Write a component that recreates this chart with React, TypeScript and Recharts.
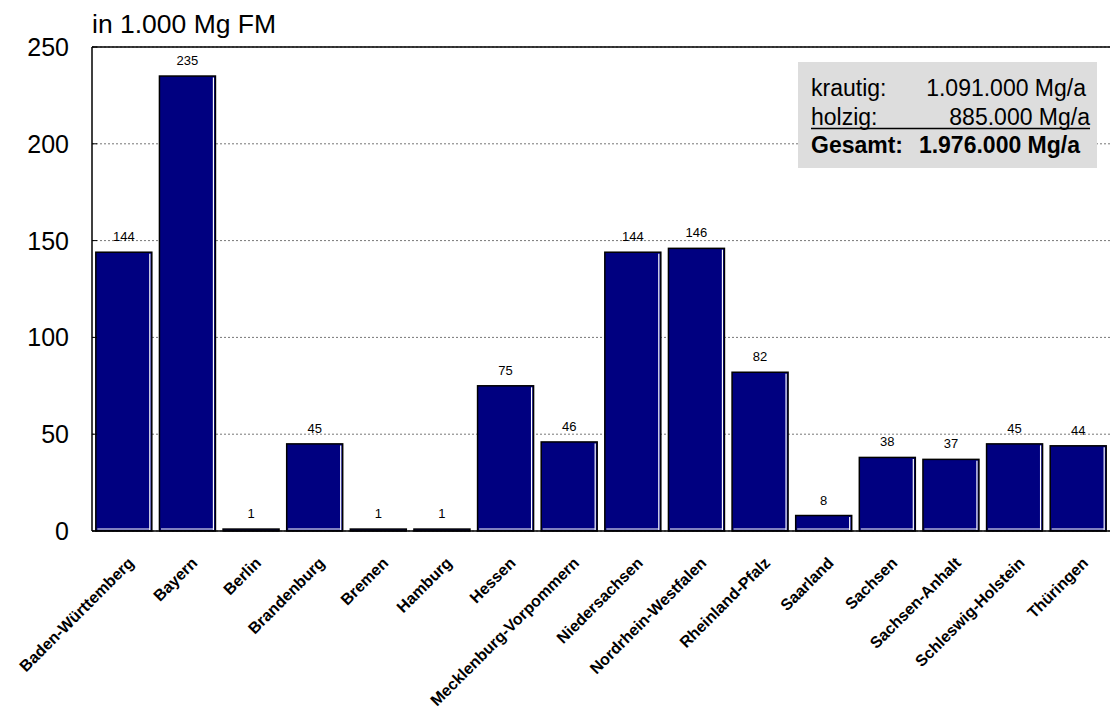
import React from "react";
import {
  BarChart,
  Bar,
  XAxis,
  YAxis,
  CartesianGrid,
  ReferenceLine,
  LabelList,
} from "recharts";

const states = [
  "Baden-Württemberg",
  "Bayern",
  "Berlin",
  "Brandenburg",
  "Bremen",
  "Hamburg",
  "Hessen",
  "Mecklenburg-Vorpommern",
  "Niedersachsen",
  "Nordrhein-Westfalen",
  "Rheinland-Pfalz",
  "Saarland",
  "Sachsen",
  "Sachsen-Anhalt",
  "Schleswig-Holstein",
  "Thüringen",
];
const amounts = [144, 235, 1, 45, 1, 1, 75, 46, 144, 146, 82, 8, 38, 37, 45, 44];
const yTicks = [0, 50, 100, 150, 200, 250];
const unitLabel = "in 1.000 Mg FM";
const legendRows = [
  { label: "krautig:", value: "1.091.000 Mg/a" },
  { label: "holzig:", value: "885.000 Mg/a" },
  { label: "Gesamt:", value: "1.976.000 Mg/a" },
];

const data = states.map((s, i) => ({ name: s, value: amounts[i] }));

const FONT = "Arial, 'Liberation Sans', sans-serif";
const Y_TICK_MARGIN = 23;

const BarShape = (props: any) => {
  const { x, y, width, height } = props;
  if (height == null || width == null) return null;
  const h = Math.max(height, 1);
  return (
    <g>
      <rect x={x} y={y} width={width} height={h} fill="#000080" stroke="#000" strokeWidth={1.5} />
      {h > 4 && (
        <>
          <line x1={x + width - 2} y1={y + 1.5} x2={x + width - 2} y2={y + h - 1} stroke="#fff" strokeWidth={1.2} />
          <line x1={x + 1.5} y1={y + h - 2} x2={x + width - 2} y2={y + h - 2} stroke="#fff" strokeWidth={1.2} />
        </>
      )}
    </g>
  );
};

const XTick = (props: any) => {
  const { x, y, payload } = props;
  const ax = x + 11;
  const ay = y + 33;
  return (
    <text
      x={ax}
      y={ay}
      transform={`rotate(-45, ${ax}, ${ay})`}
      textAnchor="end"
      fontFamily={FONT}
      fontWeight="bold"
      fontSize={16}
      fill="#000"
    >
      {payload.value}
    </text>
  );
};

const YTick = (props: any) => {
  const { x, y, payload } = props;
  const axisX = x + Y_TICK_MARGIN;
  return (
    <g>
      <text x={x} y={y} dy="0.36em" textAnchor="end" fontFamily={FONT} fontSize={25} fill="#000">
        {payload.value}
      </text>
      <line x1={axisX} y1={y} x2={axisX + 5} y2={y} stroke="#000" strokeWidth={1} />
    </g>
  );
};

export default function App() {
  return (
    <div style={{ position: "absolute", left: 0, top: 0, width: 1110, height: 709, background: "#fff" }}>
      <BarChart
        width={1110}
        height={709}
        data={data}
        margin={{ top: 47, right: 0, bottom: 0, left: 0 }}
        barCategoryGap="6%"
      >
        <CartesianGrid horizontal vertical={false} stroke="#777" strokeDasharray="2 2" />
        <XAxis
          dataKey="name"
          interval={0}
          height={178}
          tickLine={false}
          tickSize={0}
          tickMargin={0}
          axisLine={{ stroke: "#000", strokeWidth: 1.5 }}
          tick={<XTick />}
        />
        <YAxis
          width={92}
          domain={[0, 250]}
          ticks={yTicks}
          tickLine={false}
          tickSize={0}
          tickMargin={Y_TICK_MARGIN}
          axisLine={{ stroke: "#000", strokeWidth: 1.5 }}
          tick={<YTick />}
        />
        <ReferenceLine y={250} stroke="#000" strokeWidth={1.5} />
        <Bar dataKey="value" isAnimationActive={false} shape={<BarShape />}>
          <LabelList dataKey="value" position="top" offset={11} fontSize={13} fill="#000" fontFamily={FONT} />
        </Bar>
      </BarChart>
      <svg
        width={1110}
        height={709}
        style={{ position: "absolute", left: 0, top: 0, pointerEvents: "none" }}
      >
        <text x={92} y={33} fontSize={26.5} fontFamily={FONT} fill="#000">
          {unitLabel}
        </text>
        <rect x={798} y={62} width={299} height={106} fill="#dddddd" />
        <text x={811} y={96} fontSize={23} fontFamily={FONT} fill="#000">{legendRows[0].label}</text>
        <text x={1086} y={96} fontSize={23} fontFamily={FONT} fill="#000" textAnchor="end">{legendRows[0].value}</text>
        <text x={811} y={125} fontSize={23} fontFamily={FONT} fill="#000">{legendRows[1].label}</text>
        <text x={1090} y={125} fontSize={23} fontFamily={FONT} fill="#000" textAnchor="end">{legendRows[1].value}</text>
        <line x1={811} y1={128.5} x2={1090} y2={128.5} stroke="#000" strokeWidth={1.5} />
        <text x={811} y={153} fontSize={23} fontFamily={FONT} fontWeight="bold" fill="#000">{legendRows[2].label}</text>
        <text x={1080} y={153} fontSize={23} fontFamily={FONT} fontWeight="bold" fill="#000" textAnchor="end">{legendRows[2].value}</text>
      </svg>
    </div>
  );
}
